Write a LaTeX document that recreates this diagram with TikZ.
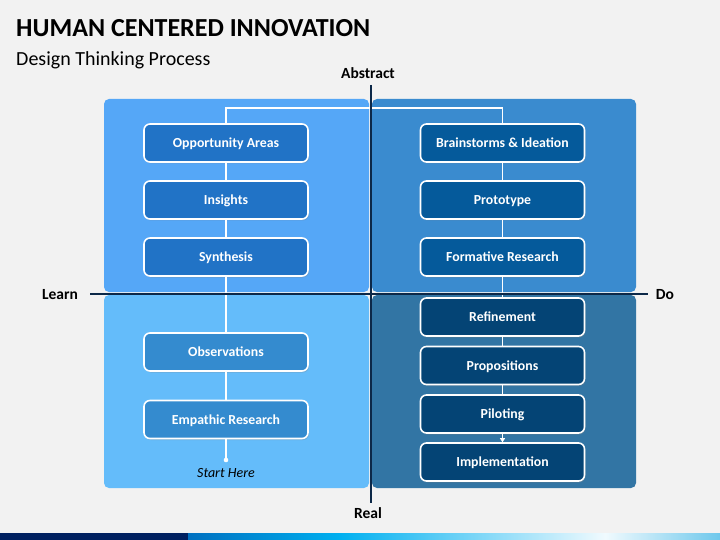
\documentclass[tikz,border=0pt]{standalone}
\usepackage{fontspec}
\setmainfont{Carlito}
\usetikzlibrary{arrows.meta,shadows}
\definecolor{hcbg}{RGB}{242,242,242}
\definecolor{hcnavy}{RGB}{12,40,72}
\definecolor{quadtl}{RGB}{85,167,247}
\definecolor{quadtr}{RGB}{58,139,207}
\definecolor{quadbl}{RGB}{100,188,250}
\definecolor{quadbr}{RGB}{50,117,164}
\definecolor{boxtl}{RGB}{33,115,198}
\definecolor{boxbl}{RGB}{52,139,207}
\definecolor{boxtr}{RGB}{5,90,155}
\definecolor{boxbr}{RGB}{4,68,117}
\definecolor{bardark}{RGB}{0,32,96}
\definecolor{barblue}{RGB}{0,112,192}
\definecolor{barcyan}{RGB}{0,176,240}
\definecolor{barpale}{RGB}{240,250,254}
\definecolor{barlight}{RGB}{110,200,236}

\begin{document}
\begin{tikzpicture}[x=1pt,y=-1pt,
  box/.style={draw=white, line width=1.6pt, rounded corners=6pt, minimum width=164pt, minimum height=38pt, inner sep=0pt, text height=9pt, text depth=0pt, text=white, font=\bfseries\fontsize{13.8}{16}\selectfont, drop shadow={shadow xshift=1pt, shadow yshift=-1.5pt, opacity=0.3}},
  flow/.style={draw=white, line width=1.4pt},
  axis/.style={draw=hcnavy, line width=2pt},
  axlabel/.style={anchor=base, inner sep=0pt, font=\bfseries\fontsize{15.5}{18}\selectfont}]
% Background
\fill[hcbg] (0,0) rectangle (720,540);

% Title
\node[anchor=base west, inner sep=0pt, font=\bfseries\fontsize{26}{30}\selectfont] (title) at (16,37) {HUMAN CENTERED INNOVATION};
\node[anchor=base west, inner sep=0pt, font=\fontsize{20}{23}\selectfont] (subtitle) at (16,66) {Design Thinking Process};

% Quadrants
\fill[quadtl, rounded corners=5pt] (104,99) rectangle (369,292);
\fill[quadtr, rounded corners=5pt] (372,99) rectangle (636,292);
\fill[quadbl, rounded corners=5pt] (104,295) rectangle (369,488);
\fill[quadbr, rounded corners=5pt] (372,295) rectangle (636,488);

% Learn side
\node[box, fill=boxtl] (opp) at (226,143) {Opportunity Areas};
\node[box, fill=boxtl] (ins) at (226,200) {Insights};
\node[box, fill=boxtl] (syn) at (226,257) {Synthesis};
\node[box, fill=boxbl] (obs) at (226,352) {Observations};
\node[box, fill=boxbl] (emp) at (226,419.5) {Empathic Research};

% Do side
\node[box, fill=boxtr] (brain) at (502.5,143) {Brainstorms \& Ideation};
\node[box, fill=boxtr] (proto) at (502.5,200) {Prototype};
\node[box, fill=boxtr] (form) at (502.5,257) {Formative Research};
\node[box, fill=boxbr] (refine) at (502.5,317) {Refinement};
\node[box, fill=boxbr] (prop) at (502.5,365.5) {Propositions};
\node[box, fill=boxbr] (pilot) at (502.5,414) {Piloting};
\node[box, fill=boxbr] (impl) at (502.5,462) {Implementation};

% Flow
\coordinate (start) at (226,460);
\fill[white] (start) circle (2.3pt);
\node[anchor=base, inner sep=0pt, font=\itshape\fontsize{14}{17}\selectfont] (here) at (226,477) {Start Here};
\draw[flow] (start) -- (emp);
\draw[flow] (emp) -- (obs);
\draw[flow] (obs) -- (syn);
\draw[flow] (syn) -- (ins);
\draw[flow] (ins) -- (opp);
\draw[flow] (opp.north) -- ++(0,-15) -| (brain.north);
\draw[flow] (brain) -- (proto);
\draw[flow] (proto) -- (form);
\draw[flow] (form) -- (refine);
\draw[flow] (refine) -- (prop);
\draw[flow] (prop) -- (pilot);
\draw[flow, -{Triangle[length=4pt,width=5pt]}, white] (pilot) -- (impl);

% Axes
\coordinate (top) at (370.5,85);
\coordinate (bottom) at (370.5,503);
\coordinate (left) at (90,293.5);
\coordinate (right) at (648,293.5);
\draw[axis] (top) -- (bottom);
\draw[axis] (left) -- (right);
\node[axlabel] (abstract) at (368,79) {Abstract};
\node[axlabel] (real) at (368,518) {Real};
\node[axlabel] (learn) at (60,299) {Learn};
\node[axlabel] (do) at (665,299) {Do};

% Bottom bar
\fill[bardark] (0,533) rectangle (188,540);
\shade[left color=barblue, right color=barcyan] (188,533) rectangle (340,540);
\shade[left color=barcyan, right color=barpale] (340,533) rectangle (605,540);
\shade[left color=barpale, right color=barlight] (605,533) rectangle (720,540);
\end{tikzpicture}
\end{document}
